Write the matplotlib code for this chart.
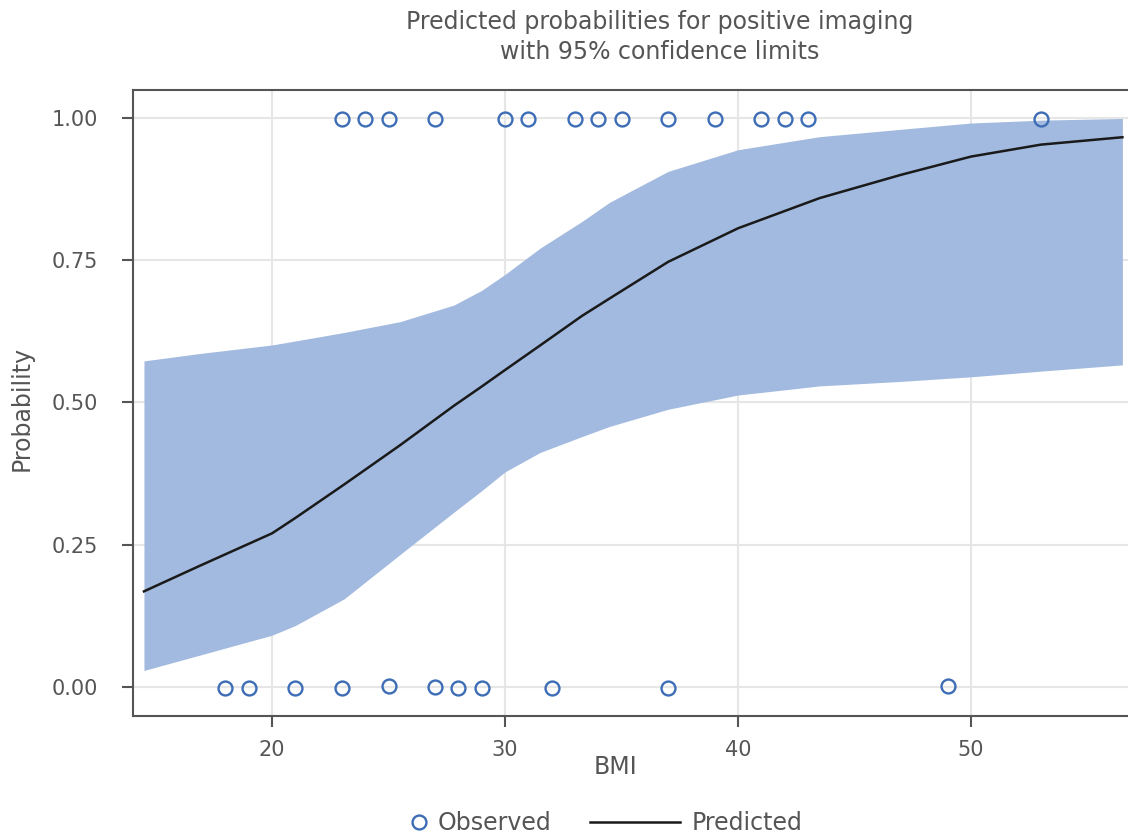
import numpy as np
import matplotlib
matplotlib.use('Agg')
import matplotlib.pyplot as plt

plt.rcParams['font.family'] = ['DejaVu Sans']

# observed outcomes (BMI, positive imaging 0/1)
obs_bmi_pos = [23, 24, 25, 27, 30, 31, 33, 34, 35, 37, 39, 41, 42, 43, 53]
obs_val_pos = [0.998] * len(obs_bmi_pos)
obs_bmi_neg = [18, 19, 21, 23, 25, 27, 28, 29, 32, 37, 49]
obs_val_neg = [-0.001, -0.001, -0.001, -0.001, 0.001, 0.0, -0.001, -0.001, -0.001, -0.001, 0.001]

# predicted curve and 95% limits
bmi = [14.5, 16.9, 20, 21, 23.1, 25.5, 27.8, 29, 30, 31.5, 33.3, 34.5, 37, 40, 43.5, 47, 50, 53, 56.5]
pred = [0.168, 0.213, 0.270, 0.297, 0.356, 0.425, 0.494, 0.528, 0.557, 0.600, 0.652, 0.683, 0.747,
        0.806, 0.859, 0.900, 0.932, 0.953, 0.966]
upper = [0.573, 0.586, 0.601, 0.608, 0.623, 0.642, 0.671, 0.697, 0.725, 0.771, 0.818, 0.852, 0.906,
         0.944, 0.967, 0.980, 0.991, 0.996, 0.999]
lower = [0.029, 0.056, 0.091, 0.108, 0.155, 0.233, 0.307, 0.345, 0.378, 0.412, 0.440, 0.458, 0.488,
         0.513, 0.529, 0.537, 0.545, 0.555, 0.566]

txt = '#555555'
fig = plt.figure(figsize=(11.28, 8.34), dpi=100)
ax = fig.add_axes([133/1128, 1-716/834, 1-133/1128, (716-90)/834])

ax.fill_between(bmi, lower, upper, color='#a2badf', lw=0, zorder=2)
line, = ax.plot(bmi, pred, color='#1a1a1a', lw=1.8, zorder=3)
pts, = ax.plot(obs_bmi_pos + obs_bmi_neg, obs_val_pos + obs_val_neg, ls='none', marker='o',
               ms=10, mfc='none', mec='#3d6db5', mew=1.7, zorder=4)

ax.set_xlim(14.03, 56.74)
ax.set_ylim(-0.051, 1.049)
ax.set_xticks([20, 30, 40, 50])
ax.set_yticks([0, 0.25, 0.5, 0.75, 1.0])
ax.set_yticklabels(['0.00', '0.25', '0.50', '0.75', '1.00'])
ax.grid(True, color='#e6e6e6', lw=1.5, zorder=0)
ax.set_axisbelow(True)
for s in ['left', 'bottom', 'top']:
    ax.spines[s].set_color('#555555')
    ax.spines[s].set_linewidth(1.5)
ax.spines['right'].set_visible(False)
ax.tick_params(axis='both', colors='#555555', labelcolor=txt, labelsize=15,
               length=8, width=1.5)
ax.tick_params(axis='y', pad=17)
ax.tick_params(axis='x', pad=9)

fig.text(660/1128, 1-22/834, 'Predicted probabilities for positive imaging',
         ha='center', va='center', fontsize=17, color=txt)
fig.text(660/1128, 1-52/834, 'with 95% confidence limits',
         ha='center', va='center', fontsize=17, color=txt)
fig.text(615/1128, 1-767/834, 'BMI', ha='center', va='center', fontsize=17, color=txt)
fig.text(22/1128, 1-408/834, 'Probability', ha='center', va='center', rotation=90,
         fontsize=17, color=txt)

leg_y = 1 - 823/834
fig.legend([pts], ['Observed'], loc='center left', bbox_to_anchor=(408/1128, leg_y),
           frameon=False, fontsize=17, labelcolor=txt, handlelength=0.9,
           handletextpad=0.35, borderpad=0, borderaxespad=0)
fig.legend([line], ['Predicted'], loc='center left', bbox_to_anchor=(590/1128, leg_y),
           frameon=False, fontsize=17, labelcolor=txt, handlelength=3.8,
           handletextpad=0.5, borderpad=0, borderaxespad=0)

fig.savefig('out.png', dpi=100)
